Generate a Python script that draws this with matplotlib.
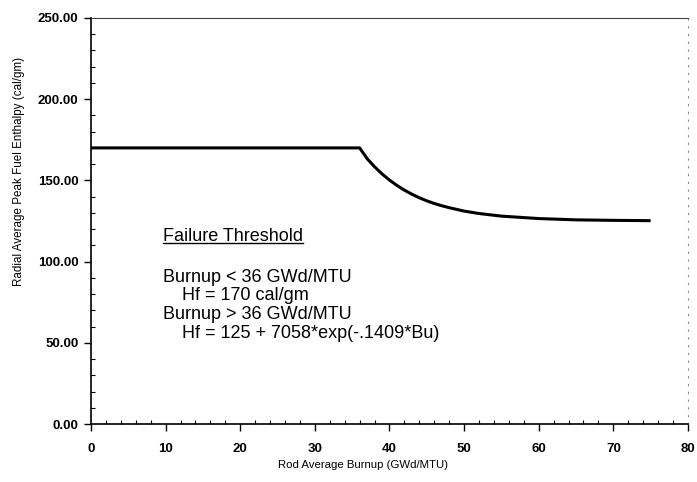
import matplotlib.pyplot as plt
from matplotlib.ticker import MultipleLocator, FormatStrFormatter

plt.rcParams['font.family'] = ['Liberation Sans', 'DejaVu Sans']

# failure threshold curve (burnup in GWd/MTU, enthalpy in cal/gm)
burnup = [0, 36, 37, 38, 39, 40, 41, 42, 43, 44, 45, 46, 47, 48, 50, 52,
          55, 60, 65, 70, 75]
enthalpy = [170.0, 170.0, 163.4, 158.4, 154.0, 150.2, 146.9, 144.0, 141.5,
            139.3, 137.4, 135.8, 134.4, 133.2, 131.1, 129.6, 128.0, 126.5,
            125.7, 125.4, 125.2]

note_title = 'Failure Threshold'
note_lines = ['Burnup < 36 GWd/MTU', 'Hf = 170 cal/gm',
              'Burnup > 36 GWd/MTU', 'Hf = 125 + 7058*exp(-.1409*Bu)']

fig = plt.figure(figsize=(6.97, 4.82), dpi=100)
ax = fig.add_axes([0.1306, 0.1203, 0.8564, 0.8424])

ax.plot(burnup, enthalpy, color='black', linewidth=2.2, solid_capstyle='butt')

ax.set_xlim(0, 80)
ax.set_ylim(0, 250)
ax.xaxis.set_major_locator(MultipleLocator(10))
ax.xaxis.set_minor_locator(MultipleLocator(2))
ax.yaxis.set_major_locator(MultipleLocator(50))
ax.yaxis.set_minor_locator(MultipleLocator(10))
ax.yaxis.set_major_formatter(FormatStrFormatter('%.2f'))

ax.tick_params(which='major', direction='out', length=5, width=1, labelsize=9.5)
ax.tick_params(which='minor', direction='in', length=3, width=0.8)
ax.tick_params(axis='x', pad=9)
ax.tick_params(axis='y', pad=4)
for lab in ax.get_xticklabels() + ax.get_yticklabels():
    lab.set_fontweight('bold')

ax.spines['left'].set_linewidth(1.2)
ax.spines['bottom'].set_linewidth(1.2)
ax.spines['top'].set_linewidth(0.8)
ax.spines['top'].set_color('#444444')
ax.spines['right'].set_linestyle((0, (1, 6)))
ax.spines['right'].set_color('#888888')
ax.spines['right'].set_linewidth(0.8)

ax.set_xlabel('Rod Average Burnup (GWd/MTU)', fontsize=8.2)
ax.set_ylabel('Radial Average Peak Fuel Enthalpy (cal/gm)', fontsize=8.4)
ax.xaxis.set_label_coords(0.4556, -0.088)
ax.yaxis.set_label_coords(-0.1106, 0.621)

t = ax.text(9.65, 112.7, note_title, fontsize=13, va='baseline', ha='left')
fig.canvas.draw()
bb = t.get_window_extent().transformed(ax.transData.inverted())
ax.plot([bb.x0, bb.x1], [111.4, 111.4], color='black', linewidth=1.0)

ys = [87.4, 76.4, 64.7, 53.0]
xs = [9.65, 12.2, 9.65, 12.2]
for x, y, s in zip(xs, ys, note_lines):
    ax.text(x, y, s, fontsize=13, va='baseline', ha='left')

fig.savefig('out.png', dpi=100)
